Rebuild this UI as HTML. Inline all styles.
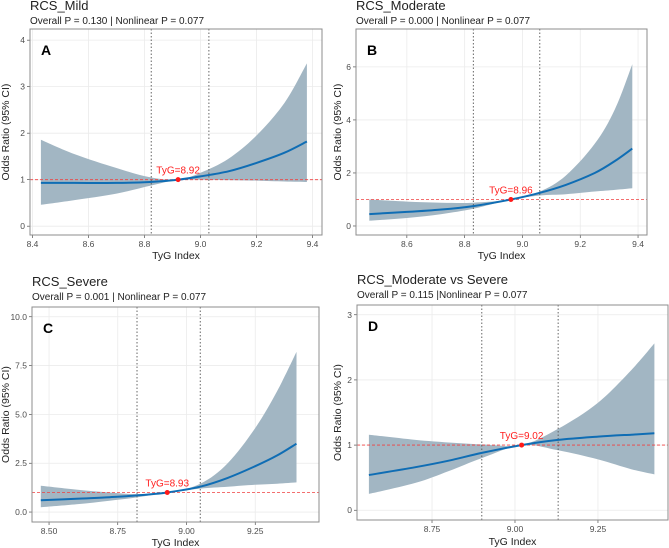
<!DOCTYPE html>
<html><head><meta charset="utf-8"><style>
body{margin:0;background:#fff;}
svg{display:block;font-family:"Liberation Sans",Arial,sans-serif;}
</style></head><body>
<svg id="chart" width="669" height="548"></svg>
<script>
// Panel A data
const aX=[8.43,8.55,8.7,8.82,8.92,9.0,9.1,9.2,9.3,9.38];
const aEst=[0.93,0.93,0.93,0.95,1,1.07,1.18,1.36,1.58,1.82];
const aLo=[0.46,0.56,0.7,0.87,1,1.0,0.99,0.98,0.96,0.95];
const aHi=[1.86,1.55,1.25,1.05,1,1.15,1.45,1.95,2.65,3.5];
const aXTicks=[8.4,8.6,8.8,9.0,9.2,9.4];
const aXTickLabels=["8.4","8.6","8.8","9.0","9.2","9.4"];
const aYTicks=[0,1,2,3,4];
const aYTickLabels=["0","1","2","3","4"];
const aVlines=[8.824,9.03];
const aRef=[8.92];
// Panel B data
const bX=[8.47,8.6,8.72,8.83,8.96,9.06,9.15,9.25,9.32,9.38];
const bEst=[0.45,0.53,0.62,0.75,1,1.25,1.55,2.0,2.45,2.92];
const bLo=[0.2,0.3,0.45,0.65,1,1.15,1.2,1.3,1.36,1.42];
const bHi=[1.0,0.92,0.88,0.88,1,1.3,1.9,3.1,4.4,6.1];
const bXTicks=[8.6,8.8,9.0,9.2,9.4];
const bXTickLabels=["8.6","8.8","9.0","9.2","9.4"];
const bYTicks=[0,2,4,6];
const bYTickLabels=["0","2","4","6"];
const bVlines=[8.83,9.06];
const bRef=[8.96];
// Panel C data
const cX=[8.47,8.6,8.72,8.82,8.93,9.05,9.15,9.25,9.33,9.40];
const cEst=[0.6,0.68,0.76,0.85,1,1.3,1.75,2.35,2.9,3.5];
const cLo=[0.25,0.4,0.58,0.75,1,1.2,1.3,1.4,1.45,1.52];
const cHi=[1.35,1.15,1.0,0.92,1,1.45,2.5,4.3,6.2,8.2];
const cXTicks=[8.5,8.75,9.0,9.25];
const cXTickLabels=["8.50","8.75","9.00","9.25"];
const cYTicks=[0,2.5,5,7.5,10];
const cYTickLabels=["0.0","2.5","5.0","7.5","10.0"];
const cVlines=[8.82,9.05];
const cRef=[8.93];
// Panel D data
const dX=[8.56,8.7,8.8,8.9,9.02,9.13,9.25,9.35,9.42];
const dEst=[0.54,0.66,0.76,0.88,1,1.08,1.13,1.16,1.18];
const dLo=[0.25,0.42,0.6,0.8,1,0.92,0.78,0.63,0.55];
const dHi=[1.16,1.08,1.04,1.01,1,1.25,1.65,2.15,2.56];
const dXTicks=[8.75,9.0,9.25];
const dXTickLabels=["8.75","9.00","9.25"];
const dYTicks=[0,1,2,3];
const dYTickLabels=["0","1","2","3"];
const dVlines=[8.90,9.13];
const dRef=[9.02];

const panels=[
 {id:'a',letter:'A',title:'RCS_Mild',sub:'Overall P = 0.130 | Nonlinear P = 0.077',L:30,R:322,T:29,B:235,x0:8.391,x1:9.434,y0:-0.19,y1:4.24,ty:10,sy:24,xt:259,ytx:9,
  X:aX,E:aEst,Lo:aLo,Hi:aHi,xt_:aXTicks,xl:aXTickLabels,yt:aYTicks,yl:aYTickLabels,v:aVlines,r:aRef},
 {id:'b',letter:'B',title:'RCS_Moderate',sub:'Overall P = 0.000 | Nonlinear P = 0.077',L:356,R:647,T:29,B:235,x0:8.424,x1:9.431,y0:-0.34,y1:7.43,ty:10,sy:24,xt:259,ytx:341,
  X:bX,E:bEst,Lo:bLo,Hi:bHi,xt_:bXTicks,xl:bXTickLabels,yt:bYTicks,yl:bYTickLabels,v:bVlines,r:bRef},
 {id:'c',letter:'C',title:'RCS_Severe',sub:'Overall P = 0.001 | Nonlinear P = 0.077',L:32,R:319,T:307,B:522,x0:8.438,x1:9.482,y0:-0.51,y1:10.5,ty:286,sy:300,xt:546,ytx:9,
  X:cX,E:cEst,Lo:cLo,Hi:cHi,xt_:cXTicks,xl:cXTickLabels,yt:cYTicks,yl:cYTickLabels,v:cVlines,r:cRef},
 {id:'d',letter:'D',title:'RCS_Moderate vs Severe',sub:'Overall P = 0.115 |Nonlinear P = 0.077',L:357,R:668,T:305,B:520,x0:8.524,x1:9.461,y0:-0.15,y1:3.15,ty:284,sy:298,xt:545,ytx:341,
  X:dX,E:dEst,Lo:dLo,Hi:dHi,xt_:dXTicks,xl:dXTickLabels,yt:dYTicks,yl:dYTickLabels,v:dVlines,r:dRef}
];
const NS='http://www.w3.org/2000/svg';
const svg=document.getElementById('chart');
function mk(tag,attrs,parent,text){const e=document.createElementNS(NS,tag);for(const k in attrs)e.setAttribute(k,attrs[k]);if(text!==undefined)e.textContent=text;(parent||svg).appendChild(e);return e;}
function smooth(pts){let d='M'+pts[0][0].toFixed(1)+','+pts[0][1].toFixed(1);for(let i=0;i<pts.length-1;i++){const p0=pts[Math.max(0,i-1)],p1=pts[i],p2=pts[i+1],p3=pts[Math.min(pts.length-1,i+2)];
 const c1=[p1[0]+(p2[0]-p0[0])/6,p1[1]+(p2[1]-p0[1])/6],c2=[p2[0]-(p3[0]-p1[0])/6,p2[1]-(p3[1]-p1[1])/6];
 d+='C'+c1[0].toFixed(1)+','+c1[1].toFixed(1)+' '+c2[0].toFixed(1)+','+c2[1].toFixed(1)+' '+p2[0].toFixed(1)+','+p2[1].toFixed(1);}return d;}
panels.forEach(p=>{
 const g=mk('g',{});
 
 
 const sx=v=>p.L+(v-p.x0)/(p.x1-p.x0)*(p.R-p.L);
 const sy=v=>p.B-(v-p.y0)/(p.y1-p.y0)*(p.B-p.T);
 const t=mk('text',{x:p.L,y:p.ty,'font-size':13,fill:'#222'},g,p.title);
 
 const s=mk('text',{x:p.L,y:p.sy,'font-size':10,fill:'#222'},g,p.sub);
 
 p.yt.forEach((v,i)=>{const y=sy(v);
  const gl=mk('line',{x1:p.L,x2:p.R,y1:y,y2:y,stroke:'#ebebeb','stroke-width':0.8},g);
  
  mk('line',{x1:p.L-3,x2:p.L,y1:y,y2:y,stroke:'#333','stroke-width':0.6},g);
  const tl=mk('text',{x:p.L-5,y:y+3,'font-size':8.5,fill:'#4d4d4d','text-anchor':'end'},g,p.yl[i]);
  });
 p.xt_.forEach((v,i)=>{const x=sx(v);
  const gl=mk('line',{x1:x,x2:x,y1:p.T,y2:p.B,stroke:'#ebebeb','stroke-width':0.8},g);
  
  mk('line',{x1:x,x2:x,y1:p.B,y2:p.B+3,stroke:'#333','stroke-width':0.6},g);
  const tl=mk('text',{x:x,y:p.B+12,'font-size':8.5,fill:'#4d4d4d','text-anchor':'middle'},g,p.xl[i]);
  });
 const hp=p.X.map((x,i)=>[sx(x),sy(p.Hi[i])]),lp=p.X.map((x,i)=>[sx(x),sy(p.Lo[i])]).reverse(),ep=p.X.map((x,i)=>[sx(x),sy(p.E[i])]);
 const rd=smooth(hp)+'L'+smooth(lp).slice(1)+'Z';
 const rib=mk('path',{d:rd,fill:'#a2b6c3'},g);
 
 const hl=mk('line',{x1:p.L,x2:p.R,y1:sy(1),y2:sy(1),stroke:'#f04040','stroke-width':0.8,'stroke-dasharray':'3,2'},g);
 
 p.v.forEach(v=>{const vl=mk('line',{x1:sx(v),x2:sx(v),y1:p.T,y2:p.B,stroke:'#555','stroke-width':0.9,'stroke-dasharray':'1.5,2'},g);
  });
 const ln=mk('path',{d:smooth(ep),fill:'none',stroke:'#0f6db4','stroke-width':2},g);
 
 const rx=sx(p.r[0]),ry=sy(1);
 const pt=mk('circle',{cx:rx,cy:ry,r:2.5,fill:'#ff1a1a'},g);
 
 const al=mk('text',{x:rx,y:ry-6,'font-size':10,fill:'#ff2020','text-anchor':'middle'},g,'TyG='+p.r[0].toFixed(2));
 
 const br=mk('rect',{x:p.L,y:p.T,width:p.R-p.L,height:p.B-p.T,fill:'none',stroke:'#8c8c8c','stroke-width':1},g);
 
 const lt=mk('text',{x:p.L+11,y:p.T+26,'font-size':14,'font-weight':'bold',fill:'#000'},g,p.letter);
 
 const xt=mk('text',{x:(p.L+p.R)/2,y:p.xt,'font-size':10.5,fill:'#222','text-anchor':'middle'},g,'TyG Index');
 
 const cy=(p.T+p.B)/2;
 const yt=mk('text',{x:p.ytx,y:cy,'font-size':10.5,fill:'#222','text-anchor':'middle',transform:'rotate(-90 '+p.ytx+' '+cy+')'},g,'Odds Ratio (95% CI)');
 
});
</script>
</body></html>
